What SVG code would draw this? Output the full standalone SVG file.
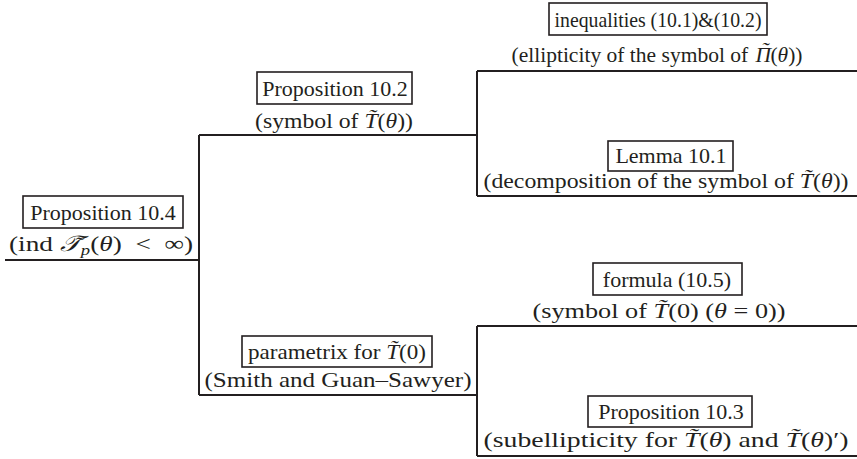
<svg xmlns="http://www.w3.org/2000/svg" width="857" height="459" viewBox="0 0 857 459">
<style>
.bg{fill:#ffffff}
.box{fill:none;stroke:#231f20;stroke-width:1.6}
.ln{fill:none;stroke:#231f20;stroke-width:2}
.t{font-family:'Liberation Serif',serif;font-size:22px;fill:#231f20;text-anchor:middle}
.m{font-style:italic}
.sub{font-style:italic;font-size:15px}
</style>
<rect class="bg" x="0" y="0" width="857" height="459"/>
<g id="connectors">
<path class="ln" d="M5,260 H199"/>
<path class="ln" d="M199,135 V395"/>
<path class="ln" d="M199,135 H477"/>
<path class="ln" d="M199,395 H477"/>
<path class="ln" d="M477,71 V196"/>
<path class="ln" d="M477,71 H857"/>
<path class="ln" d="M477,196 H857"/>
<path class="ln" d="M477,326 V456"/>
<path class="ln" d="M477,326 H857"/>
<path class="ln" d="M477,456 H857"/>
</g>
<g id="prop104">
<rect class="box" x="23" y="196" width="160" height="32"/>
<text class="t" x="103" y="220">Proposition 10.4</text>
<text class="t" x="101" y="251" textLength="184" lengthAdjust="spacingAndGlyphs">(ind <tspan class="m">𝒯&#x303;</tspan><tspan class="sub" dy="4">p</tspan><tspan dy="-4">(</tspan><tspan class="m">θ</tspan>)&#x2002;&lt;&#x2002;∞)</text>
</g>
<g id="prop102">
<rect class="box" x="257" y="72" width="155" height="32"/>
<text class="t" x="335" y="96">Proposition 10.2</text>
<text class="t" x="334" y="128" textLength="158" lengthAdjust="spacingAndGlyphs">(symbol of <tspan class="m">T&#x303;</tspan>(<tspan class="m">θ</tspan>))</text>
</g>
<g id="ineq">
<rect class="box" x="549" y="3" width="218" height="32"/>
<text class="t" x="658" y="27" textLength="207" lengthAdjust="spacingAndGlyphs">inequalities (10.1)&amp;(10.2)</text>
<text class="t" x="657" y="62" textLength="291" lengthAdjust="spacingAndGlyphs">(ellipticity of the symbol of <tspan class="m" dx="2">Π</tspan><tspan class="m" dx="-10" dy="-5">˜</tspan><tspan dx="2" dy="5">(</tspan><tspan class="m">θ</tspan>))</text>
</g>
<g id="lemma101">
<rect class="box" x="608" y="141" width="125" height="30"/>
<text class="t" x="671" y="163">Lemma 10.1</text>
<text class="t" x="666" y="188" textLength="365" lengthAdjust="spacingAndGlyphs">(decomposition of the symbol of <tspan class="m">T&#x303;</tspan>(<tspan class="m">θ</tspan>))</text>
</g>
<g id="parametrix">
<rect class="box" x="242" y="336" width="190" height="31"/>
<text class="t" x="337" y="359" textLength="178" lengthAdjust="spacingAndGlyphs">parametrix for <tspan class="m">T&#x303;</tspan>(0)</text>
<text class="t" x="338" y="387" textLength="267" lengthAdjust="spacingAndGlyphs">(Smith and Guan–Sawyer)</text>
</g>
<g id="formula105">
<rect class="box" x="593" y="263" width="149" height="32"/>
<text class="t" x="667" y="287">formula (10.5)</text>
<text class="t" x="659" y="318" textLength="253" lengthAdjust="spacingAndGlyphs">(symbol of <tspan class="m">T&#x303;</tspan>(0) (<tspan class="m">θ</tspan> = 0))</text>
</g>
<g id="prop103">
<rect class="box" x="588" y="396" width="164" height="31"/>
<text class="t" x="671" y="419">Proposition 10.3</text>
<text class="t" x="666" y="447" textLength="365" lengthAdjust="spacingAndGlyphs">(subellipticity for <tspan class="m">T&#x303;</tspan>(<tspan class="m">θ</tspan>) and <tspan class="m">T&#x303;</tspan>(<tspan class="m">θ</tspan>)′)</text>
</g>
</svg>
